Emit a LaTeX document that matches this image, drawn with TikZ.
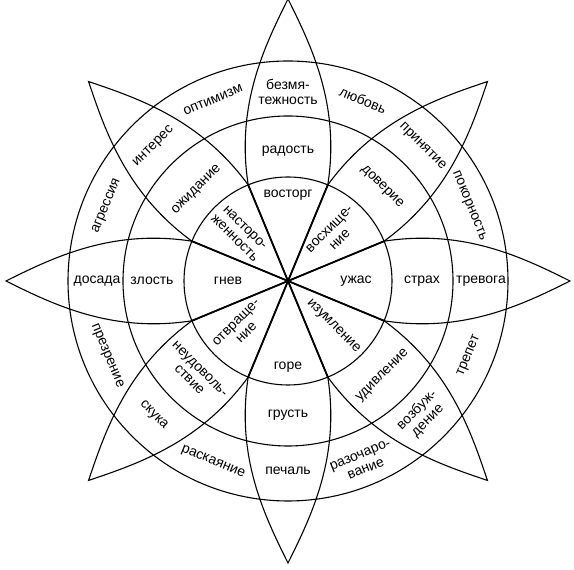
\documentclass[tikz,border=0pt]{standalone}
\usepackage{fontspec}
\setmainfont{Liberation Sans}
\usetikzlibrary{calc}
\begin{document}
\begin{tikzpicture}[x=1pt,y=1pt,
  lbl/.style={font=\fontsize{14}{15}\selectfont, align=center, inner sep=0pt},
  petal/.style={line width=1.1pt, line join=miter},
  ring/.style={line width=1.1pt}]
\useasboundingbox (0,0) rectangle (574,570);
\coordinate (C) at (288,289);
% circles
\draw[ring] (C) circle[radius=104];
\draw[ring] (C) circle[radius=165];
\draw[ring] (C) circle[radius=220];
% petals
\foreach \a in {0,45,...,315}{
  \begin{scope}[shift={(C)}, rotate=\a]
    \draw[petal] (0,0) -- (96.1,39.8) .. controls (175,52) and (233,24.5) .. (282,0)
      .. controls (233,-24.5) and (175,-52) .. (96.1,-39.8) -- cycle;
  \end{scope}
}
% thick radial lines
\foreach \a in {22.5,67.5,...,337.5}{
  \draw[line width=1.8pt] (C) -- ++(\a:104);
}
% inner ring
\node[lbl] (i1) at ($(C)+(90:86)$) {восторг};
\node[lbl, rotate=45] (i2) at ($(C)+(45:66)$) {восхище-\\ние};
\node[lbl] (i3) at ($(C)+(0:68)$) {ужас};
\node[lbl, rotate=-45] (i4) at ($(C)+(-45:64)$) {изумление};
\node[lbl] (i5) at ($(C)+(-90:86)$) {горе};
\node[lbl, rotate=45] (i6) at ($(C)+(-135:66)$) {отвраще-\\ние};
\node[lbl] (i7) at ($(C)+(180:60)$) {гнев};
\node[lbl, rotate=-45] (i8) at ($(C)+(135:68)$) {насторо-\\женность};
% middle ring
\node[lbl] (m1) at ($(C)+(90:130)$) {радость};
\node[lbl, rotate=-45] (m2) at ($(C)+(45:133)$) {доверие};
\node[lbl] (m3) at ($(C)+(0:134)$) {страх};
\node[lbl, rotate=45] (m4) at ($(C)+(-45:134)$) {удивление};
\node[lbl] (m5) at ($(C)+(-90:134)$) {грусть};
\node[lbl, rotate=-45] (m6) at ($(C)+(-135:132)$) {неудоволь-\\ствие};
\node[lbl] (m7) at ($(C)+(180:136)$) {злость};
\node[lbl, rotate=45] (m8) at ($(C)+(135:129)$) {ожидание};
% outer ring
\node[lbl] (o1) at ($(C)+(90:189)$) {безмя-\\тежность};
\node[lbl, rotate=-45] (o2) at ($(C)+(45:190)$) {принятие};
\node[lbl] (o3) at ($(C)+(0:193)$) {тревога};
\node[lbl, rotate=45] (o4) at ($(C)+(-45:190)$) {возбуж-\\дение};
\node[lbl] (o5) at ($(C)+(-90:190)$) {печаль};
\node[lbl, rotate=-45] (o6) at ($(C)+(-135:190)$) {скука};
\node[lbl] (o7) at ($(C)+(180:191)$) {досада};
\node[lbl, rotate=45] (o8) at ($(C)+(135:190)$) {интерес};
% dyads
\node[lbl, rotate=-67.5] (d1) at ($(C)+(22.5:196)$) {покорность};
\node[lbl, rotate=-22.5] (d2) at ($(C)+(67.5:196)$) {любовь};
\node[lbl, rotate=22.5] (d3) at ($(C)+(112.5:196)$) {оптимизм};
\node[lbl, rotate=67.5] (d4) at ($(C)+(157.5:196)$) {агрессия};
\node[lbl, rotate=-67.5] (d5) at ($(C)+(202.5:196)$) {презрение};
\node[lbl, rotate=-22.5] (d6) at ($(C)+(247.5:196)$) {раскаяние};
\node[lbl, rotate=22.5] (d7) at ($(C)+(292.5:196)$) {разочаро-\\вание};
\node[lbl, rotate=67.5] (d8) at ($(C)+(337.5:196)$) {трепет};
\end{tikzpicture}
\end{document}
